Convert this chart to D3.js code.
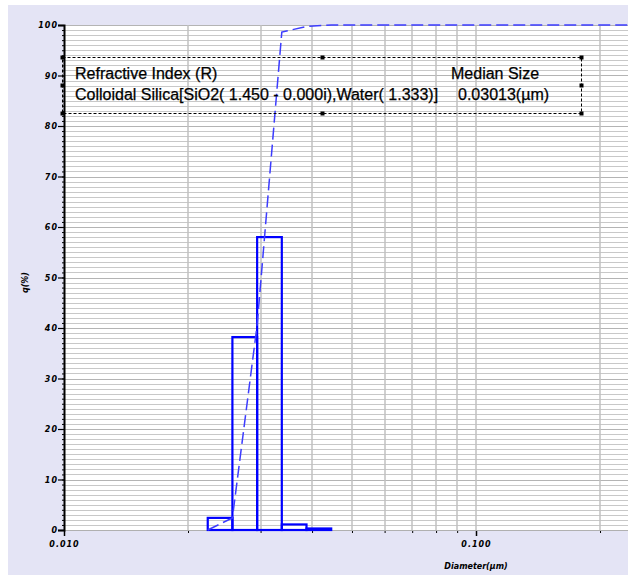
<!DOCTYPE html>
<html>
<head>
<meta charset="utf-8">
<script src="https://cdn.jsdelivr.net/npm/d3@7"></script>
<style>
  body { margin: 0; background: #fff; }
  svg { display: block; }
</style>
</head>
<body>
<div id="chart"></div>
<script>
// bin edges (um) of the histogram, and q(%) of each bin
var binEdges = [0.02233, 0.02563, 0.02943, 0.03378, 0.03878, 0.04452];
var qValues = [2.4, 38.2, 58.0, 1.1, 0.3];

var yTicks = [0, 10, 20, 30, 40, 50, 60, 70, 80, 90, 100];
var yTickLabels = ["0", "10", "20", "30", "40", "50", "60", "70", "80", "90", "100"];
var xMajor = [0.01, 0.1];
var xTickLabels = ["0.010", "0.100"];
var xMinor = [0.02, 0.03, 0.04, 0.05, 0.06, 0.07, 0.08, 0.09, 0.2, 0.3];

var legendHead = ["Refractive Index (R)", "Median Size"];
var legendRow = ["Colloidal Silica[SiO2( 1.450 - 0.000i),Water( 1.333)]", "0.03013(\u00b5m)"];

var W = 628, H = 575;
var margin = {top: 25, left: 64, bottom: 45};
var plotBottom = H - margin.bottom;

var svg = d3.select("#chart").append("svg")
    .attr("width", W)
    .attr("height", H);

svg.append("rect").attr("x", 8).attr("y", 5)
    .attr("width", W - 8).attr("height", H - 5)
    .attr("fill", "#e4e4f5");

var x = d3.scaleLog()
    .domain([0.01, 0.3])
    .range([margin.left, margin.left + 412 * Math.log10(30)]);

var y = d3.scaleLinear()
    .domain([0, 100])
    .range([plotBottom, margin.top]);

svg.append("clipPath").attr("id", "plotclip")
  .append("rect")
    .attr("x", margin.left).attr("y", margin.top - 2)
    .attr("width", W).attr("height", plotBottom - margin.top + 4);

svg.append("rect")
    .attr("x", margin.left).attr("y", margin.top)
    .attr("width", W).attr("height", plotBottom - margin.top)
    .attr("fill", "#fff");

// horizontal grid, one line per unit
svg.append("g")
    .selectAll("line")
    .data(d3.range(1, 101))
    .enter().append("line")
    .attr("x1", margin.left).attr("x2", W)
    .attr("y1", function(d){ return Math.round(y(d)) + 0.5; })
    .attr("y2", function(d){ return Math.round(y(d)) + 0.5; })
    .attr("stroke", function(d){ return d % 10 == 0 ? "#b4b4b4" : "#c8c8c8"; })
    .attr("stroke-width", 1);

// vertical grid
svg.append("g")
    .selectAll("line")
    .data(xMinor.concat([0.1]))
    .enter().append("line")
    .attr("x1", function(d){ return Math.round(x(d)); })
    .attr("x2", function(d){ return Math.round(x(d)); })
    .attr("y1", margin.top).attr("y2", plotBottom)
    .attr("stroke", "#c0c0c0")
    .attr("stroke-width", 1.5);

// x axis
var xAxisMinor = d3.axisBottom(x).tickValues(xMinor).tickSize(3).tickFormat("");
var xAxisMajor = d3.axisBottom(x).tickValues(xMajor).tickSize(6)
    .tickFormat(function(d, i){ return xTickLabels[i]; });

svg.append("g")
    .attr("transform", "translate(0," + plotBottom + ")")
    .call(xAxisMinor)
    .call(function(g){ g.select(".domain").remove(); });

svg.append("g")
    .attr("class", "xAxis")
    .attr("transform", "translate(0," + plotBottom + ")")
    .call(xAxisMajor)
    .call(function(g){
      g.select(".domain").remove();
      g.selectAll(".tick line").attr("stroke-width", 1.5);
      g.selectAll(".tick text")
        .attr("y", 11)
        .attr("font-family", "DejaVu Sans")
        .attr("font-size", 8)
        .attr("font-weight", "bold")
        .attr("font-style", "italic")
        .attr("letter-spacing", 1)
        .attr("fill", "#000");
    });

svg.append("line")
    .attr("x1", margin.left).attr("x2", W)
    .attr("y1", plotBottom + 0.5).attr("y2", plotBottom + 0.5)
    .attr("stroke", "#b0b0b0");

// y axis
var yAxisMinor = d3.axisLeft(y).tickValues(d3.range(0, 101)).tickSize(2).tickFormat("");
var yAxisMajor = d3.axisLeft(y).tickValues(yTicks).tickSize(6)
    .tickFormat(function(d, i){ return yTickLabels[i]; });

svg.append("g")
    .attr("transform", "translate(" + margin.left + ",0)")
    .call(yAxisMinor)
    .call(function(g){ g.select(".domain").remove(); });

svg.append("g")
    .attr("class", "yAxis")
    .attr("transform", "translate(" + margin.left + ",0)")
    .call(yAxisMajor)
    .call(function(g){
      g.select(".domain").attr("stroke-width", 2);
      g.selectAll(".tick line").attr("stroke-width", 1.2);
      g.selectAll(".tick text")
        .attr("x", -6)
        .attr("font-family", "DejaVu Sans")
        .attr("font-size", 8)
        .attr("font-weight", "bold")
        .attr("font-style", "italic")
        .attr("letter-spacing", 1)
        .attr("fill", "#000");
    });

// axis titles
svg.append("text")
    .attr("x", x(0.1)).attr("y", 569)
    .attr("text-anchor", "middle")
    .attr("font-family", "DejaVu Sans")
    .attr("font-size", 8)
    .attr("font-weight", "bold")
    .attr("font-style", "italic")
    .text("Diameter(\u00b5m)");

svg.append("text")
    .attr("transform", "translate(28," + y(49) + ") rotate(-90)")
    .attr("text-anchor", "middle")
    .attr("font-family", "DejaVu Sans")
    .attr("font-size", 8)
    .attr("font-weight", "bold")
    .attr("font-style", "italic")
    .text("q(%)");

var plot = svg.append("g").attr("clip-path", "url(#plotclip)");

// histogram bars
plot.selectAll(".bar")
    .data(qValues)
    .enter().append("rect")
    .attr("class", "bar")
    .attr("x", function(d, i){ return x(binEdges[i]); })
    .attr("y", function(d){ return y(d); })
    .attr("width", function(d, i){ return x(binEdges[i + 1]) - x(binEdges[i]); })
    .attr("height", function(d){ return y(0) - y(d); })
    .attr("fill", "none")
    .attr("stroke", "#0000ff")
    .attr("stroke-width", 2.2);

// cumulative curve
var cum = [0].concat(Array.from(d3.cumsum(qValues)));
var cumPts = binEdges.map(function(e, i){ return [e, cum[i]]; });
cumPts.push([x.domain()[1], cum[cum.length - 1]]);

plot.append("path")
    .datum(cumPts)
    .attr("fill", "none")
    .attr("stroke", "#3c3cff")
    .attr("stroke-width", 1.5)
    .attr("stroke-dasharray", "12,5")
    .attr("d", d3.line()
        .x(function(d){ return x(d[0]); })
        .y(function(d){ return y(d[1]); }));

// legend box
var lg = {x0: 62, x1: 581, y0: 57, y1: 113};
svg.append("rect")
    .attr("x", lg.x0 + 0.5).attr("y", lg.y0 + 0.5)
    .attr("width", lg.x1 - lg.x0).attr("height", lg.y1 - lg.y0)
    .attr("fill", "none")
    .attr("stroke", "#000")
    .attr("stroke-width", 1)
    .attr("stroke-dasharray", "3,2");

var handles = [];
[lg.x0, (lg.x0 + lg.x1) / 2, lg.x1].forEach(function(hx){
  [lg.y0, (lg.y0 + lg.y1) / 2, lg.y1].forEach(function(hy){
    if(!(hx == (lg.x0 + lg.x1) / 2 && hy == (lg.y0 + lg.y1) / 2)) handles.push([hx, hy]);
  });
});
svg.append("g").selectAll("rect")
    .data(handles)
    .enter().append("rect")
    .attr("x", function(d){ return Math.round(d[0]) - 1.5; })
    .attr("y", function(d){ return Math.round(d[1]) - 1.5; })
    .attr("width", 4).attr("height", 4)
    .attr("fill", "#000");

var textStyle = function(t){
  t.attr("font-family", "Liberation Sans, Arial")
   .attr("font-size", 16)
   .attr("fill", "#000")
   .attr("stroke", "#000")
   .attr("stroke-width", 0.25);
};
svg.append("text").attr("x", 75).attr("y", 79).text(legendHead[0]).call(textStyle);
svg.append("text").attr("x", 451).attr("y", 79).text(legendHead[1]).call(textStyle);
svg.append("text").attr("x", 75).attr("y", 100).text(legendRow[0]).call(textStyle);
svg.append("text").attr("x", 458).attr("y", 100).text(legendRow[1]).call(textStyle);
</script>
</body>
</html>
